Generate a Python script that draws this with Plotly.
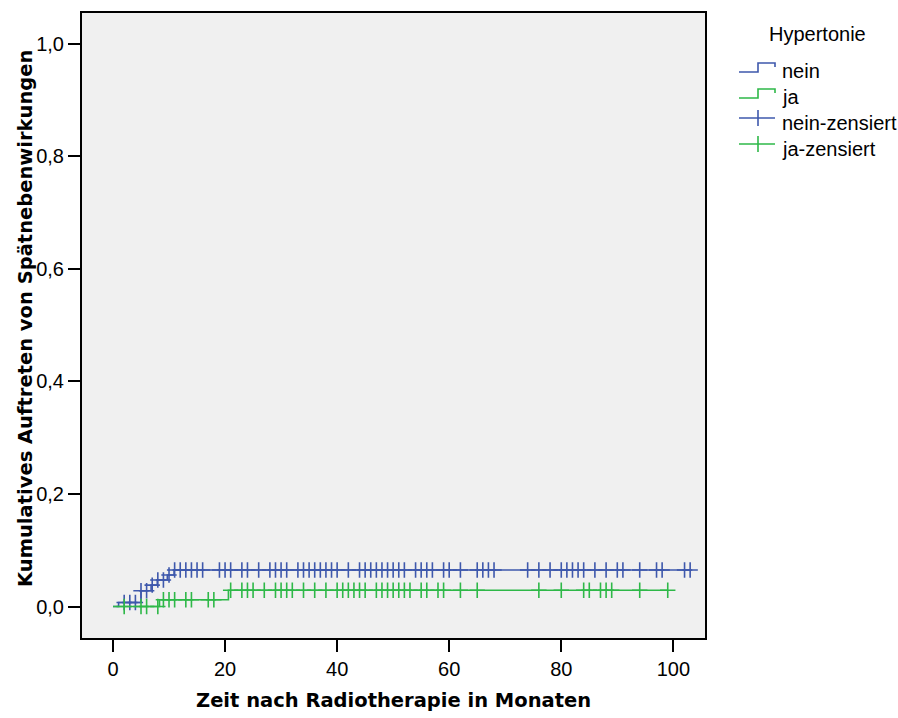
import plotly.graph_objects as go

# ---------------- data ----------------
# Hypertonie = nein
nein_event_months = [1, 5, 6.8, 7.9, 9.7, 10.9]
nein_cum_incidence = [0.007, 0.028, 0.038, 0.047, 0.056, 0.065]
nein_censored_months = [2, 3, 4, 5, 6, 7, 8, 9, 10, 11, 12, 13, 14, 15, 16, 19, 20, 21,
                        23, 24, 26, 28, 29, 30, 31, 33, 34, 35, 36, 37, 38, 39, 40, 42,
                        44, 45, 46, 47, 48, 49, 50, 51, 52, 54, 55, 56, 57, 59, 60, 62,
                        65, 66, 67, 68, 74, 76, 78, 80, 81, 82, 83, 84, 86, 88, 90, 91,
                        94, 97, 98, 102, 103]

# Hypertonie = ja
ja_event_months = [8.3, 20.6]
ja_cum_incidence = [0.012, 0.029]
ja_censored_months = [2, 5, 6, 8, 9, 10, 11, 13, 14, 17, 18, 21, 23, 24, 25, 27, 29, 30,
                      31, 32, 34, 36, 38, 40, 41, 42, 43, 44, 45, 47, 48, 49, 50, 51, 52,
                      53, 55, 56, 58, 59, 62, 65, 76, 80, 84, 85, 87, 88, 89, 94, 99]

x_ticks = [0, 20, 40, 60, 80, 100]
y_ticks = [0.0, 0.2, 0.4, 0.6, 0.8, 1.0]

group_names = ["nein", "ja"]
legend_title = "Hypertonie"

# ---------------- styling ----------------
BLUE = "#3E58AC"
GREEN = "#2EB848"
FONT = "Liberation Sans, Arial, sans-serif"
TITLE_FONT = "DejaVu Sans, sans-serif"

W, H = 898, 718
M_L, M_R, M_T, M_B = 82, 193, 13, 80


def step_curve(events, levels, censored):
    """Step function from 0 up to the last observation."""
    end = max(censored + events)
    xs = [0] + list(events) + [end]
    ys = [0] + list(levels) + [levels[-1]]
    return xs, ys


def level_at(t, events, levels):
    lvl = 0.0
    for e, v in zip(events, levels):
        if e <= t:
            lvl = v
    return lvl


fig = go.Figure()

series = [
    (nein_event_months, nein_cum_incidence, nein_censored_months, BLUE),
    (ja_event_months, ja_cum_incidence, ja_censored_months, GREEN),
]

for events, levels, censored, color in series:
    xs, ys = step_curve(events, levels, censored)
    fig.add_trace(go.Scatter(
        x=xs, y=ys, mode="lines",
        line=dict(color=color, width=1.6, shape="hv"),
        hoverinfo="skip", showlegend=False,
    ))
    fig.add_trace(go.Scatter(
        x=censored, y=[level_at(t, events, levels) for t in censored],
        mode="markers",
        marker=dict(symbol="cross-thin", size=11,
                    line=dict(color=color, width=1.6)),
        hoverinfo="skip", showlegend=False,
    ))

# ---------------- axes ----------------
axis_common = dict(
    showgrid=False, zeroline=False,
    showline=True, linecolor="black", linewidth=2, mirror=True,
    ticks="outside", ticklen=12, tickwidth=2, tickcolor="black",
    tickfont=dict(family=FONT, size=20, color="black"),
)
fig.update_xaxes(range=[-5.53, 105.65], tickvals=x_ticks, **axis_common)
fig.update_yaxes(range=[-0.056, 1.055], tickvals=y_ticks, tickformat=".1f",
                 **axis_common)


def px(x):
    return (x - M_L) / (W - M_L - M_R)


def py(y):
    return (H - M_B - y) / (H - M_T - M_B)


annotations = [
    dict(text="<b>Zeit nach Radiotherapie in Monaten</b>",
         x=px(393), y=py(700), xref="paper", yref="paper",
         xanchor="center", yanchor="middle", showarrow=False,
         font=dict(family=TITLE_FONT, size=19.5, color="black")),
    dict(text="<b>Kumulatives Auftreten von Spätnebenwirkungen</b>",
         x=px(25), y=py(319), xref="paper", yref="paper",
         xanchor="center", yanchor="middle", showarrow=False, textangle=-90,
         font=dict(family=TITLE_FONT, size=19.5, color="black")),
    dict(text=legend_title, x=px(817), y=py(34), xref="paper", yref="paper",
         xanchor="center", yanchor="middle", showarrow=False,
         font=dict(family=FONT, size=20, color="black")),
]

# ---------------- legend (drawn by hand) ----------------
legend_labels = [group_names[0], group_names[1],
                 group_names[0] + "-zensiert", group_names[1] + "-zensiert"]
legend_colors = [BLUE, GREEN, BLUE, GREEN]
row_y = [71, 97, 123, 149]
shapes = []
for i, (lab, col, yy) in enumerate(zip(legend_labels, legend_colors, row_y)):
    annotations.append(dict(
        text=lab, x=px(780), y=py(yy), xref="paper", yref="paper",
        xanchor="left", yanchor="middle", showarrow=False,
        font=dict(family=FONT, size=20, color="black")))
    if i < 2:
        low, high = yy + 1, yy - 8
        path = (f"M {px(739)},{py(low)} L {px(758)},{py(low)} "
                f"L {px(758)},{py(high)} L {px(775)},{py(high)} "
                f"L {px(775)},{py(high + 4)}")
        shapes.append(dict(type="path", path=path, xref="paper", yref="paper",
                           line=dict(color=col, width=1.6)))
    else:
        cy = yy - 5
        shapes.append(dict(type="line", x0=px(739), x1=px(775), y0=py(cy), y1=py(cy),
                           xref="paper", yref="paper", line=dict(color=col, width=1.6)))
        shapes.append(dict(type="line", x0=px(758), x1=px(758), y0=py(cy - 8),
                           y1=py(cy + 8), xref="paper", yref="paper",
                           line=dict(color=col, width=1.6)))

fig.update_layout(
    width=W, height=H,
    margin=dict(l=M_L, r=M_R, t=M_T, b=M_B),
    paper_bgcolor="white", plot_bgcolor="#F0F0F0",
    separators=",.",
    font=dict(family=FONT, size=20, color="black"),
    annotations=annotations, shapes=shapes,
    showlegend=False,
)

fig.write_html("out.html")
